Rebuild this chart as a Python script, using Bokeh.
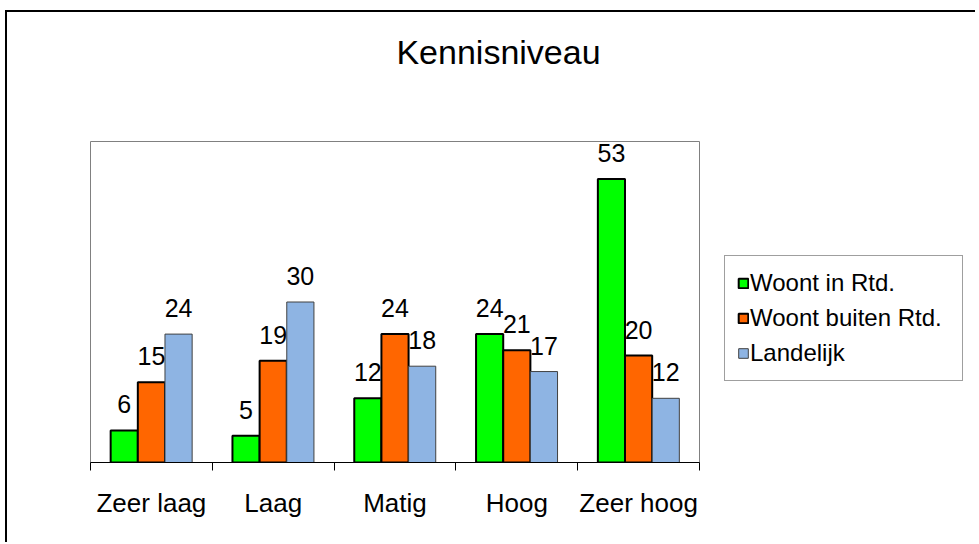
from bokeh.plotting import figure
from bokeh.layouts import column, row
from bokeh.models import (ColumnDataSource, FactorRange, Range1d, LinearAxis, CategoricalAxis,
                          FixedTicker, Legend, LegendItem, LabelSet, Label)
from bokeh.core.properties import value
from bokeh.transform import dodge
from bokeh.embed import file_html
from bokeh.resources import INLINE

categories = ["Zeer laag", "Laag", "Matig", "Hoog", "Zeer hoog"]
woont_in = [6, 5, 12, 24, 53]
woont_buiten = [15, 19, 24, 21, 20]
landelijk = [24, 30, 18, 17, 12]
series_names = ["Woont in Rtd.", "Woont buiten Rtd.", "Landelijk"]
title_text = "Kennisniveau"

FONT = "Liberation Sans"
colors = ["#00FF00", "#FF6600", "#8EB4E3"]
outlines = ["#000000", "#000000", "#404040"]
outline_w = [2, 2, 1]
bw = 0.223
offsets = [-bw, 0.0, bw]
BORDER = "2px solid #000000"


def bare(fig):
    fig.grid.visible = False
    fig.outline_line_color = None
    fig.background_fill_color = "white"
    fig.border_fill_color = "white"
    return fig


# ---- title strip -------------------------------------------------------
tf = bare(figure(width=970, height=100, x_range=Range1d(0, 1), y_range=Range1d(0, 1),
                 x_axis_location=None, y_axis_location=None, min_border=0,
                 output_backend="svg", toolbar_location=None))
tf.margin = (10, 0, 0, 5)
tf.styles = {"border-left": BORDER, "border-top": BORDER}
tf.add_layout(Label(x=491, y=61, x_units="screen", y_units="screen", text=title_text,
                    text_align="center", text_baseline="alphabetic", text_font=FONT,
                    text_font_size="34px", text_color="black"))

# ---- main chart --------------------------------------------------------
source = ColumnDataSource(dict(cat=categories, s0=woont_in, s1=woont_buiten, s2=landelijk))

p = figure(x_range=FactorRange(*categories), y_range=Range1d(0, 60),
           width=703, height=432, output_backend="svg", toolbar_location=None,
           x_axis_location=None, y_axis_location=None,
           min_border_left=83, min_border_right=11, min_border_top=31, min_border_bottom=80)
p.margin = (0, 0, 0, 5)
p.styles = {"border-left": BORDER}
p.grid.visible = False
p.outline_line_color = "#808080"
p.outline_line_width = 1
p.background_fill_color = "white"
p.border_fill_color = "white"

# boundary ticks between the categories (synthetic coordinates 0..N of the factor range)
edge_ticks = list(range(len(categories) + 1))
tick_axis = LinearAxis(ticker=FixedTicker(ticks=edge_ticks),
                       major_label_overrides={t: "" for t in edge_ticks},
                       major_label_text_font_size="1px", major_label_standoff=0,
                       major_tick_out=8, major_tick_in=0, minor_tick_line_color=None,
                       axis_line_color="black", major_tick_line_color="black")
p.add_layout(tick_axis, "below")
cat_axis = CategoricalAxis(axis_line_color=None, major_tick_line_color=None, minor_tick_line_color=None,
                           major_label_text_font=FONT, major_label_text_font_size="26px",
                           major_label_text_color="black", major_label_standoff=11)
p.add_layout(cat_axis, "below")

keys = ["s0", "s1", "s2"]
for i, key in enumerate(keys):
    p.vbar(x=dodge("cat", offsets[i], range=p.x_range), top=key, width=bw, source=source,
           fill_color=colors[i], line_color=outlines[i], line_width=outline_w[i])
    labels = LabelSet(x=dodge("cat", offsets[i], range=p.x_range), y=key, text=key, source=source,
                      text_align="center", text_baseline="alphabetic", y_offset=17,
                      text_font=value(FONT), text_font_size=value("25px"), text_color="black")
    p.add_layout(labels)

# ---- legend panel: glyph renderers use the same data, drawn small and hidden behind the
# opaque legend box ----
lf = bare(figure(width=260, height=432, x_range=FactorRange(*categories, range_padding=0.2),
                 y_range=Range1d(-58, 156),
                 x_axis_location=None, y_axis_location=None, min_border=0,
                 output_backend="svg", toolbar_location=None))
items = []
for i, key in enumerate(keys):
    r = lf.vbar(x=dodge("cat", offsets[i], range=lf.x_range), top=key, width=bw, source=source,
                fill_color=colors[i], line_color=outlines[i], line_width=outline_w[i])
    items.append(LegendItem(label=series_names[i], renderers=[r]))

legend = Legend(items=items, location=(16, 81), label_text_font=FONT, label_text_font_size="24px",
                label_text_color="black", glyph_width=12, glyph_height=12, label_standoff=1,
                label_width=200, label_height=30, spacing=5, padding=12, margin=0,
                border_line_color="#404040", border_line_width=1,
                background_fill_color="white", background_fill_alpha=1.0)
lf.add_layout(legend, "center")

layout = column(tf, row(p, lf, spacing=0), spacing=0)
open("out.html", "w").write(file_html(layout, INLINE))
